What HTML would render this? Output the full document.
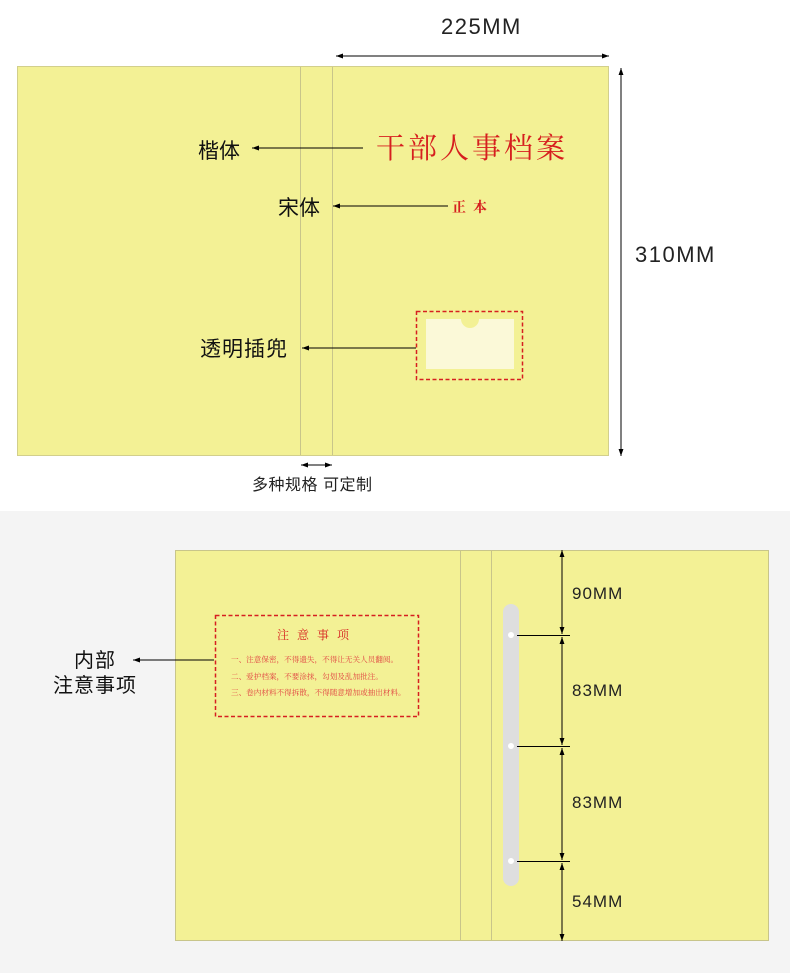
<!DOCTYPE html>
<html><head><meta charset="utf-8"><style>
html,body{margin:0;padding:0;background:#fff;}
svg{display:block;}
text{font-family:"Liberation Sans","Noto Sans CJK SC",sans-serif;}
.serif{font-family:"Liberation Serif","Noto Serif CJK SC",serif;}
</style></head><body>
<svg width="790" height="973" viewBox="0 0 790 973" xmlns="http://www.w3.org/2000/svg">
<defs>
<marker id="a" viewBox="0 0 10 10" refX="10" refY="5" markerWidth="8" markerHeight="7" orient="auto-start-reverse" markerUnits="userSpaceOnUse"><path d="M0,1.5 L10,5 L0,8.5 Z" fill="#000"/></marker>
</defs>
<rect x="0" y="0" width="790" height="511" fill="#fff"/>
<rect x="0" y="511" width="790" height="462" fill="#f4f4f4"/>

<!-- top card -->
<rect x="17.5" y="66.5" width="591" height="389" fill="#f3f195" stroke="#d2cf8c"/>
<line x1="300.5" y1="67" x2="300.5" y2="455" stroke="#c8c58a"/>
<line x1="332.5" y1="67" x2="332.5" y2="455" stroke="#c8c58a"/>

<text x="441" y="34" font-size="22" fill="#222" letter-spacing="1.5">225MM</text>
<line x1="336" y1="56" x2="609" y2="56" stroke="#000" marker-start="url(#a)" marker-end="url(#a)"/>
<line x1="621" y1="68" x2="621" y2="456" stroke="#000" marker-start="url(#a)" marker-end="url(#a)"/>
<text x="635" y="262" font-size="22" fill="#222" letter-spacing="1.5">310MM</text>

<text x="198" y="158" font-size="21" fill="#111">楷体</text>
<line x1="363" y1="148" x2="252" y2="148" stroke="#000" marker-end="url(#a)"/>
<text x="376" y="158" font-size="29" fill="#d61f1f" class="serif" letter-spacing="3">干部人事档案</text>

<text x="278" y="215" font-size="21" fill="#111">宋体</text>
<line x1="448" y1="206" x2="333" y2="206" stroke="#000" marker-end="url(#a)"/>
<text x="452" y="212" font-size="14" font-weight="bold" fill="#d61f1f" class="serif" letter-spacing="7">正本</text>

<text x="200" y="356" font-size="21" fill="#111" letter-spacing="1">透明插兜</text>
<line x1="416" y1="348" x2="302" y2="348" stroke="#000" marker-end="url(#a)"/>
<rect x="416.5" y="311.5" width="106" height="68" fill="none" stroke="#d62020" stroke-width="1.5" stroke-dasharray="4,2.5"/>
<path d="M426,319 H461 A9,9 0 0 0 479,319 H514 V369 H426 Z" fill="#fbf9d8"/>

<line x1="301" y1="465" x2="332" y2="465" stroke="#000" marker-start="url(#a)" marker-end="url(#a)"/>
<text x="252" y="490" font-size="16" fill="#222" letter-spacing="0.5">多种规格 可定制</text>

<!-- bottom card -->
<rect x="175.5" y="550.5" width="593" height="390" fill="#f3f195" stroke="#c8c58a"/>
<line x1="460.5" y1="551" x2="460.5" y2="940" stroke="#c8c58a"/>
<line x1="491.5" y1="551" x2="491.5" y2="940" stroke="#c8c58a"/>

<rect x="215.5" y="615.5" width="203" height="101" fill="none" stroke="#d62020" stroke-width="1.5" stroke-dasharray="4,2.5"/>
<text x="317" y="639" font-size="12" fill="#d62020" text-anchor="middle" class="serif" letter-spacing="8">注意事项</text>
<text x="231" y="662" font-size="7.6" fill="#e04040" class="serif">一、注意保密，不得遗失，不得让无关人员翻阅。</text>
<text x="231" y="679" font-size="7.6" fill="#e04040" class="serif">二、爱护档案，不要涂抹，勾划及乱加批注。</text>
<text x="231" y="695" font-size="7.6" fill="#e04040" class="serif">三、卷内材料不得拆散，不得随意增加或抽出材料。</text>

<text x="95" y="667" font-size="20" fill="#111" text-anchor="middle" letter-spacing="1">内部</text>
<text x="95" y="692" font-size="20" fill="#111" text-anchor="middle" letter-spacing="1">注意事项</text>
<line x1="214" y1="660" x2="133" y2="660" stroke="#000" marker-end="url(#a)"/>

<rect x="503" y="604" width="16" height="282" rx="8" fill="#dedede"/>
<circle cx="511" cy="635" r="3" fill="#fff"/>
<circle cx="511" cy="746" r="3" fill="#fff"/>
<circle cx="511" cy="861" r="3" fill="#fff"/>
<line x1="517" y1="635.5" x2="570" y2="635.5" stroke="#000"/>
<line x1="517" y1="746.5" x2="570" y2="746.5" stroke="#000"/>
<line x1="517" y1="861.5" x2="570" y2="861.5" stroke="#000"/>
<line x1="562" y1="550" x2="562" y2="634" stroke="#000" marker-start="url(#a)" marker-end="url(#a)"/>
<line x1="562" y1="637" x2="562" y2="745" stroke="#000" marker-start="url(#a)" marker-end="url(#a)"/>
<line x1="562" y1="748" x2="562" y2="860" stroke="#000" marker-start="url(#a)" marker-end="url(#a)"/>
<line x1="562" y1="863" x2="562" y2="941" stroke="#000" marker-start="url(#a)" marker-end="url(#a)"/>
<text x="572" y="599" font-size="17" fill="#222" letter-spacing="1">90MM</text>
<text x="572" y="696" font-size="17" fill="#222" letter-spacing="1">83MM</text>
<text x="572" y="808" font-size="17" fill="#222" letter-spacing="1">83MM</text>
<text x="572" y="907" font-size="17" fill="#222" letter-spacing="1">54MM</text>
</svg>
</body></html>
